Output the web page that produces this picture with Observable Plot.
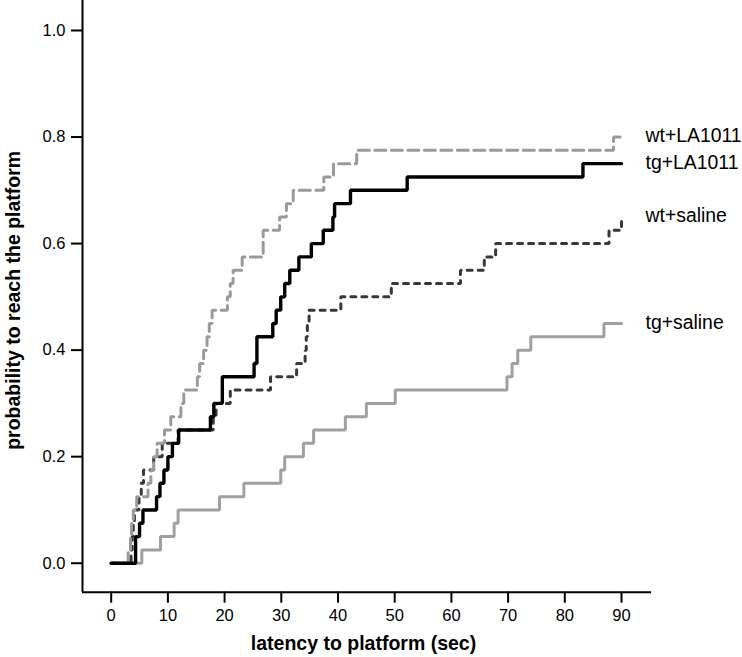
<!DOCTYPE html>
<html>
<head>
<meta charset="utf-8">
<script src="https://cdn.jsdelivr.net/npm/d3@7"></script>
<script src="https://cdn.jsdelivr.net/npm/@observablehq/plot@0.6"></script>
<style>
  html, body { margin: 0; padding: 0; background: #fff; }
  #chart svg { display: block; }
</style>
</head>
<body>
<div id="chart"></div>
<script>
// ---- data ----
const seriesNames = ["wt+LA1011", "tg+LA1011", "wt+saline", "tg+saline"];

const wtLA_t = [0, 3.0, 3.4, 3.6, 3.9, 4.5, 6.5, 7.0, 7.5, 8.1, 9.4, 10.5, 12.3, 12.8, 15.2, 15.6, 16.3, 16.9, 17.3, 17.8, 20.5, 21.0, 21.5, 23.1, 26.8, 29.7, 30.9, 32.1, 37.5, 39.2, 43.3, 88.6, 90];
const wtLA_p = [0, .025, .05, .075, .1, .125, .15, .175, .2, .225, .25, .275, .3, .325, .35, .375, .4, .425, .45, .475, .5, .525, .55, .575, .625, .65, .675, .7, .725, .75, .775, .8, .8];

const tgLA_t = [0, 4.3, 5.0, 5.6, 8.0, 8.6, 9.3, 10.0, 10.8, 11.9, 17.5, 18.1, 19.6, 25.2, 25.7, 28.5, 29.1, 29.9, 30.6, 31.5, 33.1, 35.3, 37.4, 39.1, 39.4, 42.2, 52.2, 83.2, 90];
const tgLA_p = [0, .05, .075, .1, .125, .15, .175, .2, .225, .25, .275, .3, .35, .375, .425, .45, .475, .5, .525, .55, .575, .6, .625, .65, .675, .7, .725, .75, .75];

const wtSal_t = [0, 3.5, 3.7, 3.9, 4.1, 4.9, 5.3, 5.7, 7.5, 9.0, 11.8, 18.0, 18.5, 21.0, 28.1, 32.7, 34.2, 34.4, 34.6, 34.9, 40.5, 49.4, 61.6, 65.8, 67.8, 87.8, 90];
const wtSal_p = [0, .025, .05, .075, .1, .125, .15, .175, .2, .225, .25, .275, .3, .325, .35, .375, .4, .425, .45, .475, .5, .525, .55, .575, .6, .625, .65];

const tgSal_t = [0, 5.4, 8.7, 11.1, 11.8, 19.1, 23.4, 29.9, 30.6, 33.9, 35.7, 41.3, 45.0, 50.1, 69.8, 70.7, 71.7, 74.0, 86.9, 90];
const tgSal_p = [0, .025, .05, .075, .1, .125, .15, .175, .2, .225, .25, .275, .3, .325, .35, .375, .4, .425, .45, .45];

const xTicks = [0, 10, 20, 30, 40, 50, 60, 70, 80, 90];
const yTicks = [0, 0.2, 0.4, 0.6, 0.8, 1.0];
const xTitle = "latency to platform (sec)";
const yTitle = "probability to reach the platform";

// ---- build tables ----
const toRows = (name, ts, ps) => ts.map((t, i) => ({series: name, t, p: ps[i]}));
const wtLA = toRows(seriesNames[0], wtLA_t, wtLA_p);
const tgLA = toRows(seriesNames[1], tgLA_t, tgLA_p);
const wtSal = toRows(seriesNames[2], wtSal_t, wtSal_p);
const tgSal = toRows(seriesNames[3], tgSal_t, tgSal_p);
const ends = [wtLA, tgLA, wtSal, tgSal].map(s => s[s.length - 1]);

const xMin = -5.06, xMax = 95.29;
const yMin = -0.0544, yMax = 1.0563;
const font = "'Liberation Sans', Arial, Helvetica, sans-serif";

const chart = Plot.plot({
  width: 742,
  height: 657,
  marginLeft: 82,
  marginRight: 91,
  marginTop: 0,
  marginBottom: 65.3,
  style: {fontFamily: font, background: "#fff", color: "#000", overflow: "visible"},
  x: {domain: [xMin, xMax]},
  y: {domain: [yMin, yMax]},
  marks: [
    Plot.line(tgSal, {x: "t", y: "p", curve: "step-after", stroke: "#a0a0a0", strokeWidth: 3, strokeLinejoin: "miter"}),
    Plot.line(wtSal, {x: "t", y: "p", curve: "step-after", stroke: "#383838", strokeWidth: 3, strokeDasharray: "5,6", strokeLinejoin: "miter"}),
    Plot.line(wtLA, {x: "t", y: "p", curve: "step-after", stroke: "#9a9a9a", strokeWidth: 3, strokeDasharray: "11,5.5", strokeLinejoin: "miter"}),
    Plot.line(tgLA, {x: "t", y: "p", curve: "step-after", stroke: "#000", strokeWidth: 3.4, strokeLinejoin: "miter"}),
    Plot.ruleX([xMin], {stroke: "#000", strokeWidth: 2}),
    Plot.ruleY([yMin], {stroke: "#000", strokeWidth: 2}),
    Plot.axisY({ticks: yTicks, tickFormat: d3.format(".1f"), tickSize: 11, tickPadding: 6, fontSize: 16.5, strokeWidth: 2, label: null}),
    Plot.axisX({ticks: xTicks, tickFormat: d => String(d), tickSize: 11, tickPadding: 6, fontSize: 16.5, strokeWidth: 2, label: null}),
    Plot.text(ends, {x: "t", y: "p", text: "series", dx: 24, dy: -1, textAnchor: "start", fontSize: 19.4, fill: "#000"}),
    Plot.text([yTitle], {frameAnchor: "left", dx: -69, dy: 4, rotate: -90, textAnchor: "middle", lineAnchor: "middle", fontSize: 19.5, fontWeight: "bold", fill: "#000"}),
    Plot.text([xTitle], {frameAnchor: "bottom", dx: -3.5, dy: 52, textAnchor: "middle", lineAnchor: "middle", fontSize: 19.5, fontWeight: "bold", fill: "#000"})
  ]
});
document.getElementById("chart").appendChild(chart);
</script>
</body>
</html>
